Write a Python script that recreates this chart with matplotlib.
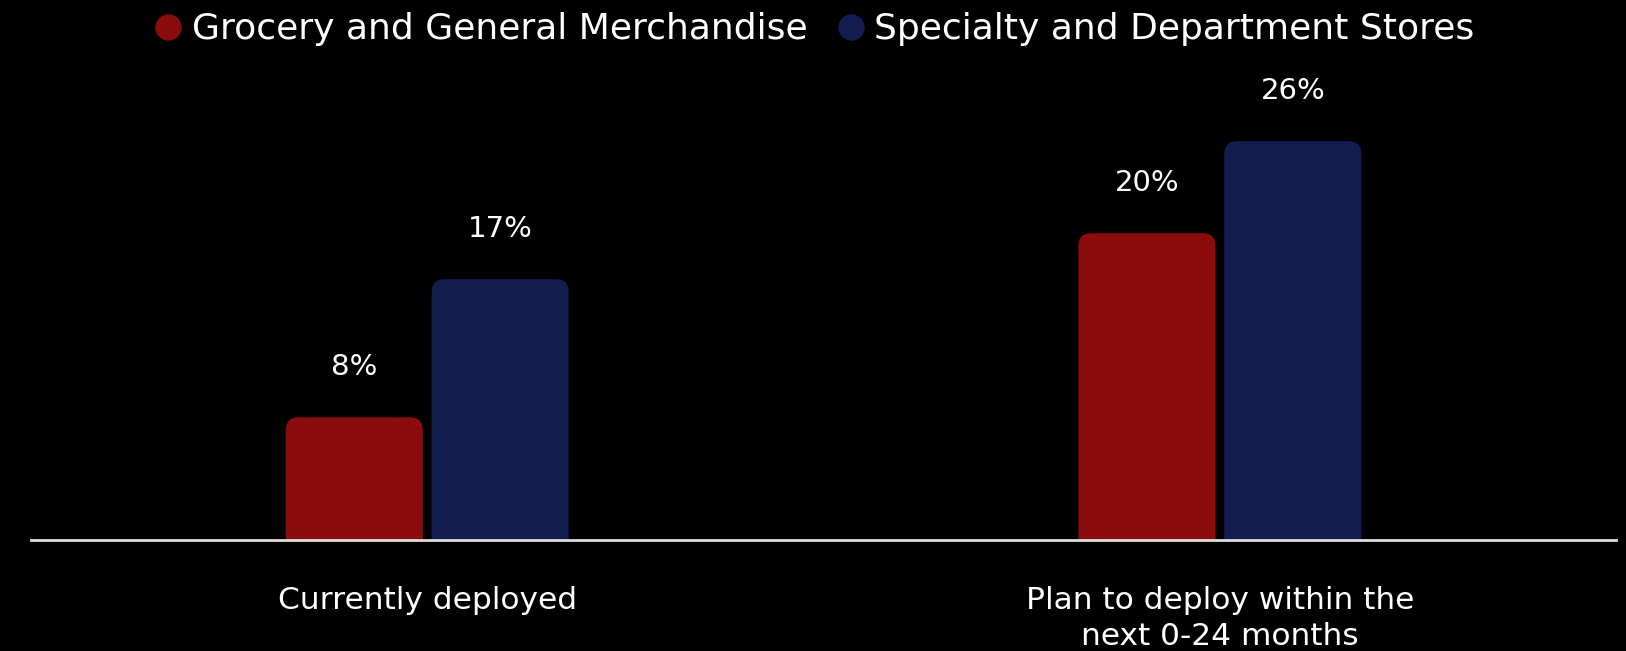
import numpy as np
import matplotlib
matplotlib.use("Agg")
import matplotlib.pyplot as plt
from matplotlib.patches import FancyBboxPatch
from matplotlib.lines import Line2D

# --- data ---
categories = ["Currently deployed", "Plan to deploy within the\nnext 0-24 months"]
series_names = ["Grocery and General Merchandise", "Specialty and Department Stores"]
grocery = [8, 20]
specialty = [17, 26]

COLORS = ["#8A0C0C", "#131D4F"]

plt.rcParams["font.family"] = ["DejaVu Sans"]

fig = plt.figure(figsize=(16.26, 6.51), dpi=100, facecolor="black")
ax = fig.add_axes([0.019, 0.1705, 0.975, 0.74])
ax.set_facecolor("black")

x = np.arange(len(categories))
width = 0.173
offset = 0.092

ax.set_xlim(-0.5, 1.5)
ax.set_ylim(0, 482 / 15.35)

bars = []
for vals, sign, color in [(grocery, -1, COLORS[0]), (specialty, 1, COLORS[1])]:
    bars.append(ax.bar(x + sign * offset, vals, width, color=color))

# swap plain rectangles for ones with rounded tops
fig.canvas.draw()
inv = ax.transData.inverted()
p0 = inv.transform((0, 0))
p1 = inv.transform((1, 1))
dx, dy = p1[0] - p0[0], p1[1] - p0[1]
radius_px = 13
for cont in bars:
    for rect in cont:
        rx, ry = rect.get_x(), rect.get_y()
        w, h = rect.get_width(), rect.get_height()
        ext = radius_px * dy
        patch = FancyBboxPatch((rx, ry - ext), w, h + ext,
                               boxstyle=f"round,pad=0,rounding_size={radius_px * dx}",
                               mutation_aspect=dy / dx,
                               facecolor=rect.get_facecolor(), edgecolor="none",
                               clip_on=True, zorder=2)
        ax.add_patch(patch)
        rect.set_visible(False)
        ax.annotate(f"{h:g}%", (rx + w / 2, h), xytext=(0, 36),
                    textcoords="offset points", ha="center", va="center",
                    color="white", fontsize=21)

for side in ["top", "left", "right"]:
    ax.spines[side].set_visible(False)
ax.spines["bottom"].set_color("#dddddd")
ax.spines["bottom"].set_linewidth(2)
ax.spines["bottom"].set_zorder(3)
ax.set_yticks([])
ax.set_xticks(x)
ax.set_xticklabels(categories, color="white", fontsize=22.5, linespacing=1.32)
ax.tick_params(axis="x", length=0, pad=33)

handles = [Line2D([], [], marker="o", linestyle="none", markersize=18,
                  markerfacecolor=c, markeredgecolor=c) for c in COLORS]
fig.legend(handles, series_names, loc="center", bbox_to_anchor=(0.4985, 0.955),
           ncol=2, frameon=False, fontsize=26, labelcolor="white",
           handletextpad=0.05, columnspacing=0.6, handlelength=1.2)

fig.savefig("out.png", dpi=100, facecolor="black")
